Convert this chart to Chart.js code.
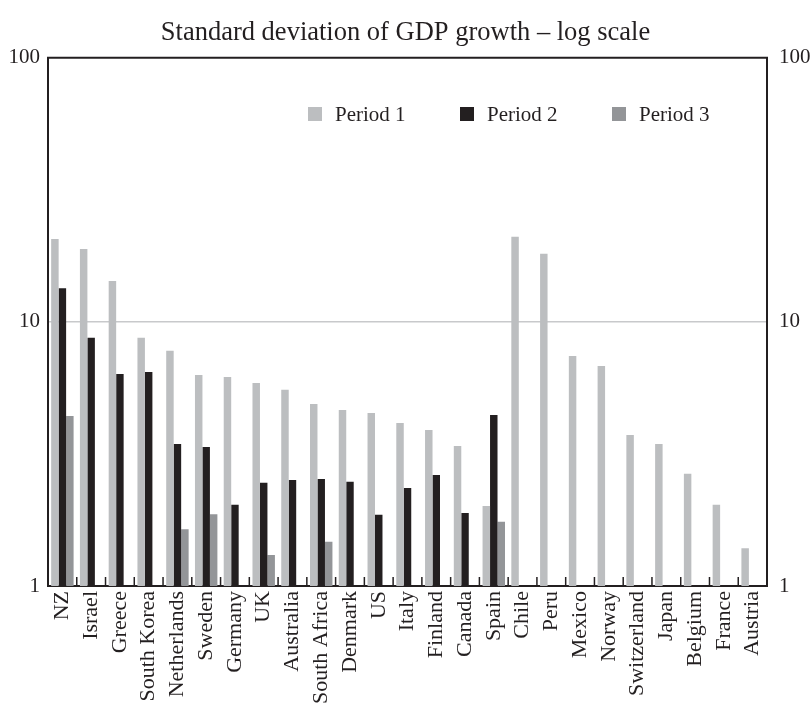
<!DOCTYPE html>
<html>
<head>
<meta charset="utf-8">
<script src="https://cdn.jsdelivr.net/npm/chart.js@4.4.1/dist/chart.umd.min.js"></script>
<style>
html,body{margin:0;padding:0;background:#ffffff;}
canvas{display:block;}
</style>
</head>
<body>
<canvas id="c" width="811" height="703"></canvas>
<script>
const categories = ["NZ","Israel","Greece","South Korea","Netherlands","Sweden","Germany","UK","Australia","South Africa","Denmark","US","Italy","Finland","Canada","Spain","Chile","Peru","Mexico","Norway","Switzerland","Japan","Belgium","France","Austria"];
const period1 = [20.6,18.9,14.3,8.7,7.77,6.3,6.19,5.87,5.53,4.89,4.64,4.52,4.14,3.9,3.39,2.01,21.0,18.1,7.43,6.81,3.73,3.45,2.66,2.03,1.39];
const period2 = [13.4,8.7,6.35,6.46,3.45,3.36,2.03,2.46,2.52,2.54,2.48,1.86,2.35,2.63,1.89,4.44,null,null,null,null,null,null,null,null,null];
const period3 = [4.40,null,null,null,1.64,1.87,null,1.31,null,1.47,null,null,null,null,null,1.75,null,null,null,null,null,null,null,null,null];
const seriesNames = ["Period 1","Period 2","Period 3"];
const yTicks = [1,10,100];
const titleText = "Standard deviation of GDP growth \u2013 log scale";

const INK = '#231f20';
const COLORS = ['#bcbec0', '#231f20', '#939598'];
const FONT = "'Liberation Serif', 'Times New Roman', serif";

const framePlugin = {
  id: 'frame',
  afterDatasetsDraw(chart) {
    const {ctx, chartArea: a} = chart;
    const x = chart.scales.x;
    ctx.save();
    ctx.strokeStyle = INK;
    ctx.lineWidth = 2;
    ctx.beginPath();
    ctx.moveTo(a.left - 1, a.top);
    ctx.lineTo(a.right + 1, a.top);
    ctx.stroke();
    // inward category boundary ticks
    ctx.lineWidth = 1.5;
    for (let i = 1; i < categories.length; i++) {
      const bx = (x.getPixelForValue(i - 1) + x.getPixelForValue(i)) / 2;
      ctx.beginPath();
      ctx.moveTo(bx, a.bottom);
      ctx.lineTo(bx, a.bottom - 9);
      ctx.stroke();
    }
    // legend
    ctx.font = "21px " + FONT;
    ctx.textBaseline = 'middle';
    ctx.textAlign = 'left';
    const lx0 = 308, ly = 114, step = 152, sq = 14;
    chart.data.datasets.forEach((ds, i) => {
      const lx = lx0 + i * step;
      ctx.fillStyle = ds.backgroundColor;
      ctx.fillRect(lx, ly - sq / 2, sq, sq);
      ctx.fillStyle = INK;
      ctx.fillText(ds.label, lx + 27, ly + 1);
    });
    ctx.restore();
  }
};

const yCommon = {
  type: 'logarithmic',
  min: 1,
  max: 100,
  afterBuildTicks: s => { s.ticks = yTicks.map(v => ({value: v})); },
  ticks: {
    color: INK,
    font: {family: FONT, size: 21},
    callback: v => String(v)
  },
  border: {display: true, color: INK, width: 2}
};

new Chart(document.getElementById('c'), {
  type: 'bar',
  data: {
    labels: categories,
    datasets: [
      {label: seriesNames[0], data: period1, backgroundColor: COLORS[0]},
      {label: seriesNames[1], data: period2, backgroundColor: COLORS[1]},
      {label: seriesNames[2], data: period3, backgroundColor: COLORS[2]}
    ]
  },
  options: {
    responsive: false,
    animation: false,
    devicePixelRatio: 1,
    layout: {padding: 0},
    datasets: {bar: {categoryPercentage: 0.78, barPercentage: 1.0, borderWidth: 0}},
    plugins: {
      legend: {display: false},
      tooltip: {enabled: false},
      title: {
        display: true,
        text: titleText,
        color: INK,
        font: {family: FONT, size: 26.5, weight: 'normal'},
        padding: {top: 17, bottom: 9}
      }
    },
    scales: {
      x: {
        ticks: {
          color: INK,
          font: {family: FONT, size: 22},
          minRotation: 90,
          maxRotation: 90,
          autoSkip: false,
          padding: 5
        },
        grid: {display: false, drawTicks: false},
        border: {display: true, color: INK, width: 2},
        afterFit: s => { s.height = 117; }
      },
      y: Object.assign({}, yCommon, {
        position: 'left',
        ticks: Object.assign({}, yCommon.ticks, {padding: 8}),
        grid: {
          drawTicks: false,
          lineWidth: 1.5,
          color: c => (c.tick && c.tick.value === 10) ? '#c8c9cb' : 'rgba(0,0,0,0)'
        },
        afterFit: s => { s.width = 48; }
      }),
      y2: Object.assign({}, yCommon, {
        position: 'right',
        ticks: Object.assign({}, yCommon.ticks, {padding: 12}),
        grid: {display: false, drawTicks: false},
        afterFit: s => { s.width = 44; }
      })
    }
  },
  plugins: [framePlugin]
});
</script>
</body>
</html>
